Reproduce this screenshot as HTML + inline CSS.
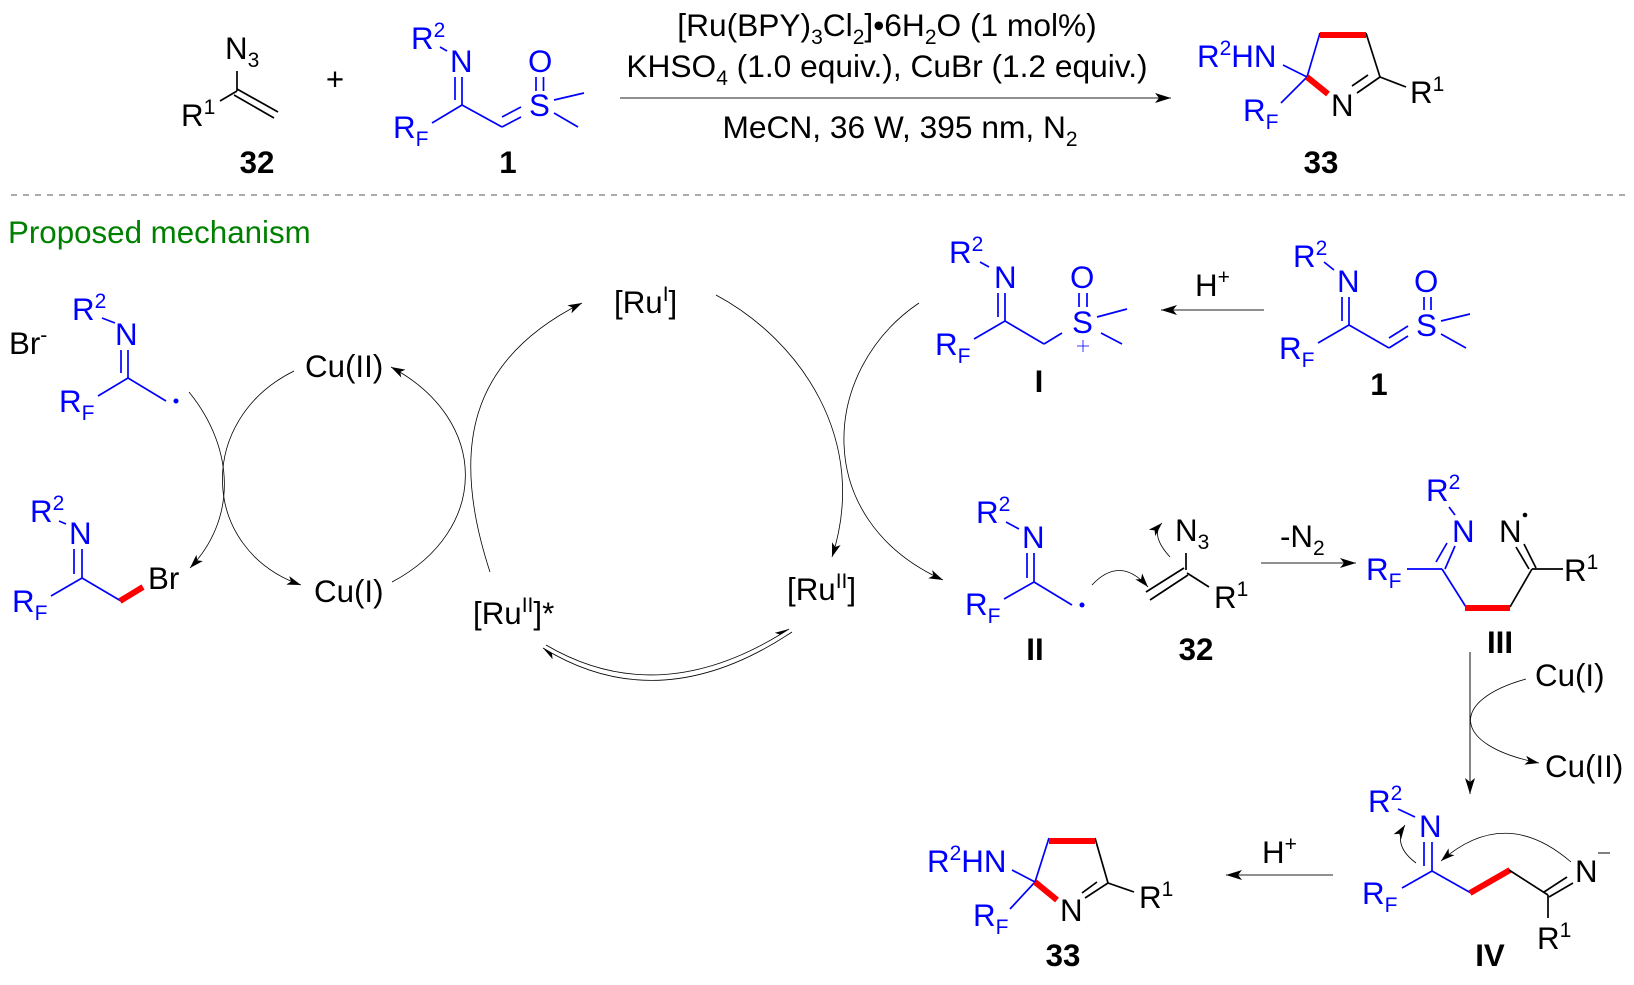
<!DOCTYPE html>
<html><head><meta charset="utf-8"><style>
html,body{margin:0;padding:0;background:#fff}
svg{display:block}
text{font-family:"Liberation Sans",sans-serif;font-size:31.3px;fill:#000}
.b text,text.b{fill:#00f}
text.g{font-size:31.7px}
.s{font-size:21px}
.n{font-weight:bold;text-anchor:middle}
line,polyline,path{fill:none}
.bl line,.bl polyline{stroke:#00f;stroke-width:1.7}
.k line{stroke:#000;stroke-width:1.7}
.r line{stroke:#f00;stroke-width:6}
.c path{stroke:#000;stroke-width:.8}
.a line{stroke:#222;stroke-width:1.1}
</style></head><body>
<svg width="1634" height="985" viewBox="0 0 1634 985" xmlns="http://www.w3.org/2000/svg">
<defs>
<marker id="h" markerUnits="userSpaceOnUse" markerWidth="15" markerHeight="9" refX="14" refY="4.5" orient="auto"><path d="M14 4.5L0 0L3.5 4.5L0 9Z" style="fill:#000"/></marker>
<marker id="q" markerUnits="userSpaceOnUse" markerWidth="15" markerHeight="9" refX="14" refY="4.5" orient="auto"><path d="M14 4.5L0 0L3.5 4.5Z" style="fill:#000"/></marker>
<marker id="H" markerUnits="userSpaceOnUse" markerWidth="17" markerHeight="10" refX="16" refY="5" orient="auto"><path d="M16 5L0 0L4 5L0 10Z" style="fill:#000"/></marker>
</defs>

<!-- top: 32 -->
<g class="k"><line x1="237" y1="71" x2="237" y2="91"/><line x1="220" y1="101" x2="237" y2="91"/><line x1="237" y1="89" x2="278" y2="112"/><line x1="234" y1="95" x2="274" y2="118"/></g>
<text x="225" y="59">N<tspan class="s" dy="8">3</tspan></text>
<text x="181" y="126">R<tspan class="s" dy="-12">1</tspan></text>
<text class="n" x="257" y="173">32</text>
<text x="335" y="90" text-anchor="middle">+</text>

<!-- top: 1 -->
<g class="bl"><line x1="440" y1="47" x2="447" y2="51"/><line x1="455" y1="77" x2="455" y2="100"/><line x1="462" y1="77" x2="462" y2="105"/><line x1="432" y1="123" x2="462" y2="105"/><line x1="462" y1="105" x2="502" y2="127"/><line x1="502" y1="127" x2="521" y2="117"/><line x1="502" y1="117" x2="521" y2="107"/><line x1="536" y1="77" x2="536" y2="91"/><line x1="543.5" y1="77" x2="543.5" y2="91"/><line x1="554" y1="100" x2="584" y2="93"/><line x1="554" y1="113" x2="578" y2="127"/></g>
<g class="b">
<text x="411" y="49">R<tspan class="s" dy="-12">2</tspan></text>
<text x="450" y="72">N</text>
<text x="393" y="138">R<tspan class="s" dy="8">F</tspan></text>
<text x="529" y="116">S</text>
<text x="528" y="72">O</text>
</g>
<text class="n" x="508" y="173">1</text>

<!-- reagents -->
<text class="g" x="887" y="36" text-anchor="middle">[Ru(BPY)<tspan class="s" dy="8">3</tspan><tspan dy="-8">Cl</tspan><tspan class="s" dy="8">2</tspan><tspan dy="-8">]•6H</tspan><tspan class="s" dy="8">2</tspan><tspan dy="-8">O (1 mol%)</tspan></text>
<text class="g" x="887" y="77" text-anchor="middle">KHSO<tspan class="s" dy="8">4</tspan><tspan dy="-8"> (1.0 equiv.), CuBr (1.2 equiv.)</tspan></text>
<text class="g" x="900" y="138" text-anchor="middle">MeCN, 36 W, 395 nm, N<tspan class="s" dy="8">2</tspan></text>
<g class="a"><line x1="620" y1="98" x2="1171" y2="98" marker-end="url(#H)"/></g>

<!-- top: 33 -->
<g class="bl"><line x1="1283" y1="65" x2="1307" y2="77"/><line x1="1307" y1="77" x2="1320" y2="33"/><line x1="1307" y1="77" x2="1281" y2="103"/></g>
<g class="k"><line x1="1366" y1="33" x2="1380" y2="77"/><line x1="1380" y1="77" x2="1357" y2="93"/><line x1="1368" y1="75" x2="1352" y2="86"/><line x1="1380" y1="77" x2="1406" y2="87"/></g>
<g class="r"><line x1="1320" y1="35" x2="1366" y2="35"/><line x1="1307" y1="77" x2="1328" y2="94"/></g>
<g class="b"><text x="1197" y="67">R<tspan class="s" dy="-12">2</tspan><tspan dy="12">HN</tspan></text>
<text x="1243" y="121">R<tspan class="s" dy="8">F</tspan></text></g>
<text x="1331" y="116">N</text>
<text x="1410" y="103">R<tspan class="s" dy="-12">1</tspan></text>
<text class="n" x="1321" y="173">33</text>

<!-- dashed -->
<line x1="11" y1="195" x2="1626" y2="195" style="stroke:#555;stroke-width:1;stroke-dasharray:6 6"/>
<text x="8" y="243" style="fill:#008000">Proposed mechanism</text>

<!-- I -->
<g class="bl"><line x1="980" y1="262" x2="989" y2="267"/><line x1="998" y1="293" x2="998" y2="317"/><line x1="1005" y1="293" x2="1005" y2="321"/><line x1="974" y1="339" x2="1005" y2="321"/><line x1="1005" y1="321" x2="1044" y2="344"/><line x1="1044" y1="344" x2="1062" y2="333"/><line x1="1079" y1="293" x2="1079" y2="307"/><line x1="1087" y1="293" x2="1087" y2="307"/><line x1="1097" y1="317" x2="1127" y2="309"/><line x1="1101" y1="333" x2="1122" y2="344"/></g>
<g class="b"><text x="949" y="263">R<tspan class="s" dy="-12">2</tspan></text><text x="994" y="288">N</text><text x="935" y="355">R<tspan class="s" dy="8">F</tspan></text><text x="1072" y="333">S</text><text x="1070" y="288">O</text></g>
<line x1="1077" y1="346" x2="1089" y2="346" style="stroke:#00f;stroke-width:.8"/><line x1="1083" y1="340" x2="1083" y2="352" style="stroke:#00f;stroke-width:.8"/>
<text class="n" x="1039" y="392">I</text>

<!-- H+ top -->
<text x="1195" y="296">H<tspan class="s" dy="-12">+</tspan></text>
<g class="a"><line x1="1264" y1="310" x2="1161" y2="310" marker-end="url(#H)"/></g>

<!-- 1 right -->
<g class="bl"><line x1="1324" y1="262" x2="1334" y2="270"/><line x1="1342" y1="297" x2="1342" y2="321"/><line x1="1349" y1="297" x2="1349" y2="325"/><line x1="1318" y1="343" x2="1349" y2="325"/><line x1="1349" y1="325" x2="1389" y2="348"/><line x1="1389" y1="348" x2="1408" y2="336"/><line x1="1389" y1="338" x2="1408" y2="326"/><line x1="1424" y1="297" x2="1424" y2="310"/><line x1="1431" y1="297" x2="1431" y2="310"/><line x1="1441" y1="321" x2="1470" y2="314"/><line x1="1441" y1="334" x2="1466" y2="348"/></g>
<g class="b"><text x="1293" y="267">R<tspan class="s" dy="-12">2</tspan></text><text x="1337" y="292">N</text><text x="1279" y="359">R<tspan class="s" dy="8">F</tspan></text><text x="1416" y="336">S</text><text x="1414" y="292">O</text></g>
<text class="n" x="1379" y="395">1</text>

<!-- Ru cycle -->
<text x="614" y="313">[Ru<tspan class="s" dy="-12">I</tspan><tspan dy="12">]</tspan></text>
<text x="787" y="600">[Ru<tspan class="s" dy="-12">II</tspan><tspan dy="12">]</tspan></text>
<text x="473" y="624">[Ru<tspan class="s" dy="-12">II</tspan><tspan dy="12">]*</tspan></text>
<g class="c">
<path d="M490 572C450 450 468 360 582 303" marker-end="url(#h)"/>
<path d="M716 295C800 340 870 440 832 557" marker-end="url(#h)"/>
<path d="M919 303C820 370 810 520 943 580" marker-end="url(#h)"/>
<path d="M546 645Q660 712 789 629" marker-end="url(#q)"/>
<path d="M792 632Q660 720 543 648" marker-end="url(#q)"/>
<path d="M294 371C195 420 200 550 301 585" marker-end="url(#h)"/>
<path d="M392 582C490 530 490 420 391 367" marker-end="url(#h)"/>
<path d="M189 392C236 450 236 520 190 568" marker-end="url(#h)"/>
<path d="M1092 585Q1120 555 1148 587" marker-end="url(#h)"/>
<path d="M1170 557Q1150 535 1162 523" marker-end="url(#h)"/>
<path d="M1526 679C1450 700 1450 745 1539 763" marker-end="url(#h)"/>
<path d="M1571 862Q1505 805 1441 861" marker-end="url(#h)"/>
<path d="M1416 863Q1392 845 1405 825" marker-end="url(#h)"/>
</g>

<!-- Cu -->
<text x="305" y="377">Cu(II)</text>
<text x="314" y="602">Cu(I)</text>
<text x="9" y="354">Br<tspan class="s" dy="-12">-</tspan></text>

<!-- radical left -->
<g class="bl"><line x1="102" y1="318" x2="115" y2="323"/><line x1="121" y1="350" x2="121" y2="373"/><line x1="128" y1="350" x2="128" y2="378"/><line x1="98" y1="396" x2="128" y2="378"/><line x1="128" y1="378" x2="166" y2="401"/></g>
<circle cx="176" cy="401" r="2.5" style="fill:#00f"/>
<g class="b"><text x="72" y="320">R<tspan class="s" dy="-12">2</tspan></text><text x="115" y="345">N</text><text x="59" y="412">R<tspan class="s" dy="8">F</tspan></text></g>

<!-- bromide -->
<g class="bl"><line x1="59" y1="521" x2="66" y2="524"/><line x1="74" y1="549" x2="74" y2="574"/><line x1="82" y1="549" x2="82" y2="578"/><line x1="51" y1="596" x2="82" y2="578"/><line x1="82" y1="578" x2="121" y2="601"/></g>
<g class="r"><line x1="120" y1="601" x2="143" y2="587"/></g>
<g class="b"><text x="30" y="522">R<tspan class="s" dy="-12">2</tspan></text><text x="69" y="544">N</text><text x="12" y="612">R<tspan class="s" dy="8">F</tspan></text></g>
<text x="148" y="589">Br</text>

<!-- II -->
<g class="bl"><line x1="1006" y1="522" x2="1019" y2="529"/><line x1="1027" y1="553" x2="1027" y2="578"/><line x1="1034" y1="553" x2="1034" y2="582"/><line x1="1004" y1="599" x2="1034" y2="582"/><line x1="1034" y1="582" x2="1072" y2="605"/></g>
<circle cx="1082" cy="605" r="2.5" style="fill:#00f"/>
<g class="b"><text x="976" y="523">R<tspan class="s" dy="-12">2</tspan></text><text x="1022" y="548">N</text><text x="965" y="615">R<tspan class="s" dy="8">F</tspan></text></g>
<text class="n" x="1035" y="660">II</text>

<!-- 32 mech -->
<g class="k"><line x1="1186" y1="553" x2="1186" y2="570"/><line x1="1184" y1="568" x2="1146" y2="592"/><line x1="1188" y1="575" x2="1150" y2="600"/><line x1="1187" y1="573" x2="1209" y2="587"/></g>
<text x="1175" y="541">N<tspan class="s" dy="8">3</tspan></text>
<text x="1214" y="608">R<tspan class="s" dy="-12">1</tspan></text>
<text class="n" x="1196" y="660">32</text>

<!-- -N2 -->
<text x="1280" y="547">-N<tspan class="s" dy="8">2</tspan></text>
<g class="a"><line x1="1261" y1="563" x2="1356" y2="563" marker-end="url(#H)"/></g>

<!-- III -->
<g class="bl"><line x1="1449" y1="507" x2="1455" y2="515"/><line x1="1455" y1="546" x2="1445" y2="569"/><line x1="1447" y1="543" x2="1436" y2="562"/><line x1="1407" y1="569" x2="1442" y2="569"/><line x1="1442" y1="569" x2="1466" y2="607"/></g>
<g class="k"><line x1="1510" y1="607" x2="1532" y2="569"/><line x1="1524" y1="544" x2="1536" y2="568"/><line x1="1516" y1="547" x2="1529" y2="569"/><line x1="1532" y1="569" x2="1563" y2="569"/></g>
<g class="r"><line x1="1465" y1="608" x2="1510" y2="608"/></g>
<g class="b"><text x="1426" y="501">R<tspan class="s" dy="-12">2</tspan></text><text x="1452" y="542">N</text><text x="1366" y="580">R<tspan class="s" dy="8">F</tspan></text></g>
<text x="1499" y="542">N</text><circle cx="1525" cy="515" r="2.3"/>
<text x="1564" y="581">R<tspan class="s" dy="-12">1</tspan></text>
<text class="n" x="1500" y="653">III</text>

<!-- down arrow -->
<g class="a"><line x1="1470" y1="652" x2="1470" y2="794" marker-end="url(#H)"/></g>
<text x="1535" y="686">Cu(I)</text>
<text x="1545" y="777">Cu(II)</text>

<!-- IV -->
<g class="bl"><line x1="1398" y1="809" x2="1415" y2="817"/><line x1="1424" y1="842" x2="1424" y2="866"/><line x1="1432" y1="842" x2="1432" y2="871"/><line x1="1402" y1="888" x2="1432" y2="871"/><line x1="1432" y1="871" x2="1471" y2="893"/></g>
<g class="r"><line x1="1470" y1="893" x2="1510" y2="870"/></g>
<g class="k"><line x1="1509" y1="870" x2="1548" y2="895"/><line x1="1544" y1="892" x2="1567" y2="877"/><line x1="1549" y1="897" x2="1573" y2="883"/><line x1="1548" y1="895" x2="1548" y2="918"/></g>
<g class="b"><text x="1368" y="812">R<tspan class="s" dy="-12">2</tspan></text><text x="1419" y="837">N</text><text x="1362" y="904">R<tspan class="s" dy="8">F</tspan></text></g>
<text x="1575" y="882">N</text>
<line x1="1598" y1="853" x2="1610" y2="853" style="stroke:#000;stroke-width:1"/>
<text x="1537" y="949">R<tspan class="s" dy="-12">1</tspan></text>
<text class="n" x="1490" y="966">IV</text>

<!-- H+ lower -->
<text x="1262" y="863">H<tspan class="s" dy="-12">+</tspan></text>
<g class="a"><line x1="1333" y1="875" x2="1226" y2="875" marker-end="url(#H)"/></g>

<!-- 33 lower -->
<g class="bl"><line x1="1012" y1="870" x2="1035" y2="882"/><line x1="1035" y1="882" x2="1049" y2="838"/><line x1="1035" y1="882" x2="1010" y2="909"/></g>
<g class="k"><line x1="1095" y1="838" x2="1108" y2="883"/><line x1="1108" y1="883" x2="1085" y2="898"/><line x1="1097" y1="882" x2="1082" y2="893"/><line x1="1108" y1="883" x2="1134" y2="892"/></g>
<g class="r"><line x1="1049" y1="841" x2="1095" y2="841"/><line x1="1035" y1="882" x2="1057" y2="900"/></g>
<g class="b"><text x="927" y="872">R<tspan class="s" dy="-12">2</tspan><tspan dy="12">HN</tspan></text><text x="973" y="926">R<tspan class="s" dy="8">F</tspan></text></g>
<text x="1060" y="921">N</text>
<text x="1139" y="908">R<tspan class="s" dy="-12">1</tspan></text>
<text class="n" x="1063" y="966">33</text>
</svg>
</body></html>
